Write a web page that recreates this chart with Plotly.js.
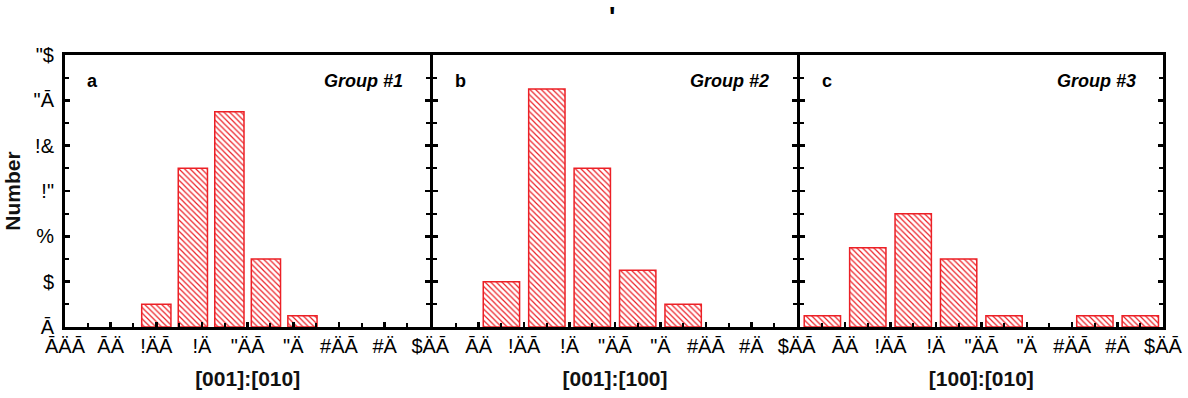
<!DOCTYPE html>
<html>
<head>
<meta charset="utf-8">
<script src="https://cdn.plot.ly/plotly-3.0.1.min.js"></script>
<style>html,body{margin:0;padding:0;background:#fff;}#chart{width:1188px;height:398px;}</style>
</head>
<body>
<div id="chart"></div>
<script>
// ---- data ----
const groupA_x = [1.0, 1.4, 1.8, 2.2, 2.6];
const groupA_y = [2, 14, 19, 6, 1];
const groupB_x = [0.75, 1.25, 1.75, 2.25, 2.75];
const groupB_y = [4, 21, 14, 5, 2];
const groupC_x = [0.25, 0.75, 1.25, 1.75, 2.25, 3.25, 3.75];
const groupC_y = [1, 7, 10, 6, 1, 1, 1];

const panelLetters = ["a", "b", "c"];
const panelGroups = ["Group #1", "Group #2", "Group #3"];
const xTitles = ["[001]:[010]", "[001]:[100]", "[100]:[010]"];
const yTitle = "Number";

const yTickVals = [0, 4, 8, 12, 16, 20, 24];
const yTickText = ["Ā", "$", "%", "!\"", "!&", "\"Ā", "\"$"];
const xTickVals = [0, 0.5, 1, 1.5, 2, 2.5, 3, 3.5, 4];
const xTickText = ["ĀÄĀ", "ĀÄ", "!ÄĀ", "!Ä", "\"ÄĀ", "\"Ä", "#ÄĀ", "#Ä", "$ÄĀ"];
const topMark = "'";

const RED = "rgb(236,32,38)";
const FONT = "Liberation Sans, Arial, sans-serif";

function barTrace(x, y, w, xa, ya) {
  return {
    type: "bar", x: x, y: y, width: w, xaxis: xa, yaxis: ya,
    marker: {
      color: "white",
      line: {color: RED, width: 1.5},
      pattern: {shape: "\\", fgcolor: RED, bgcolor: "white", size: 4, solidity: 0.3}
    },
    hoverinfo: "skip", showlegend: false
  };
}

const data = [
  barTrace(groupA_x, groupA_y, 0.32, "x", "y"),
  barTrace(groupB_x, groupB_y, 0.4, "x2", "y2"),
  barTrace(groupC_x, groupC_y, 0.4, "x3", "y3")
];

const domains = [[0, 0.3327], [0.3354, 0.6664], [0.6691, 1]];

function xAxis(i) {
  const tv = i === 0 ? xTickVals : xTickVals.slice(1);
  const tt = i === 0 ? xTickText : xTickText.slice(1);
  return {
    domain: domains[i], anchor: i === 0 ? "y" : "y" + (i + 1), range: [0, 4],
    tickmode: "array", tickvals: tv, ticktext: tt,
    ticks: "inside", ticklen: 5, tickwidth: 2.5, tickcolor: "black",
    minor: {dtick: 0.25, tick0: 0, ticks: "inside", ticklen: 4, tickwidth: 2, tickcolor: "black"},
    showline: true, linewidth: 3, linecolor: "black", mirror: true,
    showgrid: false, zeroline: false,
    tickfont: {family: FONT, size: 20, color: "black"},
    ticklabelstandoff: -1,
    title: {text: "<b>" + xTitles[i] + "</b>", font: {family: FONT, size: 21, color: "#111"}, standoff: 16}
  };
}

function yAxis(i) {
  const ax = {
    range: [0, 24], tickmode: "array", tickvals: yTickVals, ticktext: yTickText,
    ticks: "inside", ticklen: 5, tickwidth: 2.5, tickcolor: "black",
    minor: {dtick: 2, tick0: 0, ticks: "inside", ticklen: 4, tickwidth: 2, tickcolor: "black"},
    showline: true, linewidth: 3, linecolor: "black", mirror: "ticks",
    showgrid: false, zeroline: false,
    tickfont: {family: FONT, size: 20, color: "black"},
    ticklabelstandoff: 4
  };
  if (i === 0) {
    ax.title = {text: "<b>" + yTitle + "</b>", font: {family: FONT, size: 21, color: "#111"}, standoff: 8};
  } else {
    ax.anchor = "x" + (i + 1);
    ax.showticklabels = false;
  }
  return ax;
}

const annotations = [];
for (let i = 0; i < 3; i++) {
  const xr = (i === 0 ? "x" : "x" + (i + 1)) + " domain";
  annotations.push({
    xref: xr, yref: "paper", x: 0.055, y: 0.905, xanchor: "left", yanchor: "middle",
    text: "<b>" + panelLetters[i] + "</b>", showarrow: false,
    font: {family: FONT, size: 18, color: "black"}
  });
  annotations.push({
    xref: xr, yref: "paper", x: 0.93, y: 0.905, xanchor: "right", yanchor: "middle",
    text: "<b><i>" + panelGroups[i] + "</i></b>", showarrow: false,
    font: {family: FONT, size: 18, color: "black"}
  });
}
annotations.push({
  xref: "paper", yref: "paper", x: 0.498, y: 1.14, xanchor: "center", yanchor: "middle",
  text: "<b>" + topMark + "</b>", showarrow: false,
  font: {family: FONT, size: 27, color: "black"}
});

const layout = {
  width: 1188, height: 398,
  margin: {l: 65, r: 25, t: 55, b: 71},
  paper_bgcolor: "white", plot_bgcolor: "white",
  xaxis: xAxis(0), xaxis2: xAxis(1), xaxis3: xAxis(2),
  yaxis: yAxis(0), yaxis2: yAxis(1), yaxis3: yAxis(2),
  annotations: annotations,
  bargap: 0
};

Plotly.newPlot("chart", data, layout, {staticPlot: true, displayModeBar: false});
</script>
</body>
</html>
